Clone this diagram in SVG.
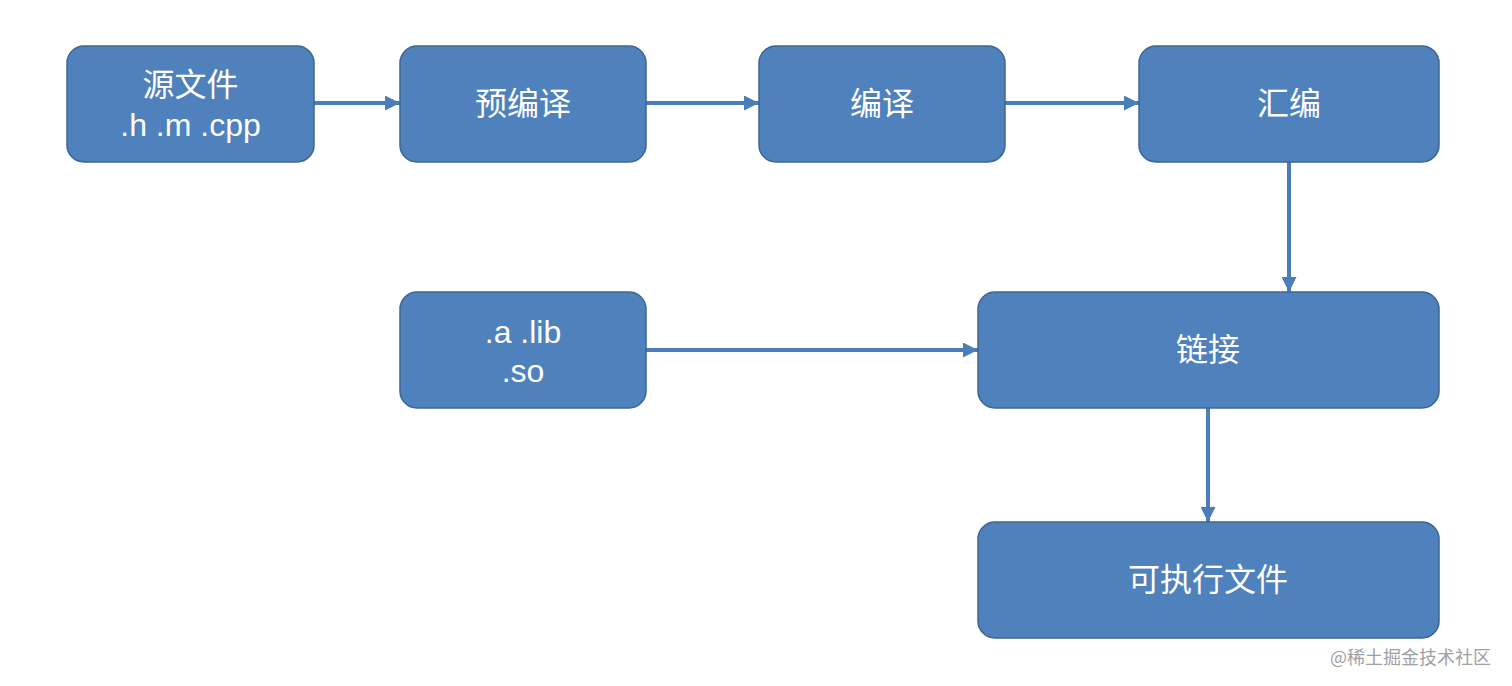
<svg xmlns="http://www.w3.org/2000/svg" width="1512" height="686" viewBox="0 0 1512 686">
<style>
.box{fill:#4f81bd;stroke:#3c6594;stroke-width:1.5}
.t{font-family:"Liberation Sans","Noto Sans CJK SC",sans-serif;font-size:32px;fill:#ffffff;text-anchor:middle}
.c{stroke:#4a7ebb;stroke-width:4;fill:none;marker-end:url(#ah)}
.wm{font-family:"Noto Sans CJK SC",sans-serif;font-size:18px;fill:#a0a0a0}
</style>
<defs>
<marker id="ah" markerUnits="userSpaceOnUse" markerWidth="15" markerHeight="15" refX="15" refY="7.5" orient="auto">
<path d="M0,0 L15,7.5 L0,15 Z" fill="#4a7ebb"/>
</marker>
</defs>
<rect width="1512" height="686" fill="#ffffff"/>
<g id="connectors">
<line class="c" x1="314" y1="103" x2="400" y2="103"/>
<line class="c" x1="646" y1="103" x2="759" y2="103"/>
<line class="c" x1="1005" y1="103" x2="1139" y2="103"/>
<line class="c" x1="1289" y1="162" x2="1289" y2="292"/>
<line class="c" x1="646" y1="350" x2="978" y2="350"/>
<line class="c" x1="1208" y1="408" x2="1208" y2="522"/>
</g>
<g id="source">
<rect class="box" x="67" y="46" width="247" height="116" rx="17"/>
<text class="t" x="190.5" y="96">源文件</text>
<text class="t" x="190.5" y="136">.h .m .cpp</text>
</g>
<g id="preprocess">
<rect class="box" x="400" y="46" width="246" height="116" rx="17"/>
<text class="t" x="523" y="115">预编译</text>
</g>
<g id="compile">
<rect class="box" x="759" y="46" width="246" height="116" rx="17"/>
<text class="t" x="882" y="115">编译</text>
</g>
<g id="assemble">
<rect class="box" x="1139" y="46" width="300" height="116" rx="17"/>
<text class="t" x="1289" y="115">汇编</text>
</g>
<g id="libs">
<rect class="box" x="400" y="292" width="246" height="116" rx="17"/>
<text class="t" x="523" y="343">.a .lib</text>
<text class="t" x="523" y="382">.so</text>
</g>
<g id="link">
<rect class="box" x="978" y="292" width="461" height="116" rx="17"/>
<text class="t" x="1208" y="361">链接</text>
</g>
<g id="executable">
<rect class="box" x="978" y="522" width="461" height="116" rx="17"/>
<text class="t" x="1208" y="591">可执行文件</text>
</g>
<text class="wm" x="1330" y="664">@稀土掘金技术社区</text>
</svg>
